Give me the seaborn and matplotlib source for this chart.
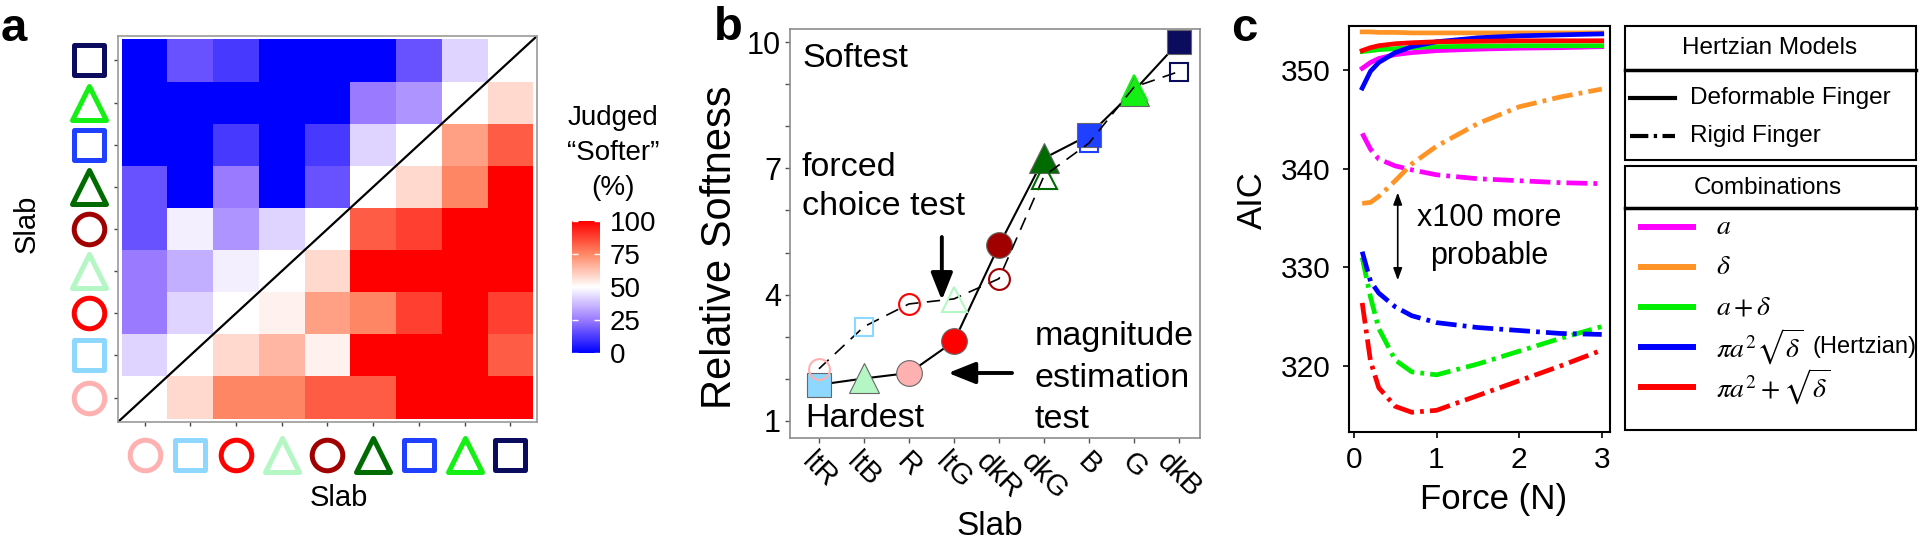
import numpy as np
import pandas as pd
import matplotlib
matplotlib.use('Agg')
import matplotlib.pyplot as plt
import seaborn as sns
from matplotlib.colors import LinearSegmentedColormap
from matplotlib.markers import MarkerStyle
from matplotlib.patches import Rectangle
from matplotlib.transforms import blended_transform_factory

plt.rcParams['font.family'] = ['Liberation Sans', 'DejaVu Sans']
plt.rcParams['mathtext.fontset'] = 'stix'

# slabs in forced-choice order (axis order of panels a and b)
slabs = ['ltR', 'ltB', 'R', 'ltG', 'dkR', 'dkG', 'B', 'G', 'dkB']
slab_colors = ['#ffb0b0', '#8ed8ff', '#ff0000', '#b4f7c4', '#a00000',
               '#006b00', '#2040ff', '#14f014', '#0c0c5e']
slab_markers = ['o', 's', 'o', '^', 'o', '^', 's', '^', 's']

# a: % judged softer (rows = slab on y axis, ltR first)
judged_softer = [
    [np.nan, 58, 75, 75, 83, 83, 100, 100, 100],
    [42, np.nan, 58, 65, 53, 100, 100, 100, 83],
    [25, 42, np.nan, 53, 70, 75, 88, 100, 88],
    [25, 35, 47, np.nan, 58, 100, 100, 100, 100],
    [17, 47, 30, 42, np.nan, 83, 88, 100, 100],
    [17, 0, 25, 0, 17, np.nan, 58, 75, 100],
    [0, 0, 12, 0, 12, 42, np.nan, 70, 83],
    [0, 0, 0, 0, 0, 25, 30, np.nan, 58],
    [0, 17, 12, 0, 0, 0, 17, 42, np.nan],
]
cbar_ticks = [0, 25, 50, 75, 100]

# b: relative softness by rank
magnitude_slabs = ['ltB', 'ltG', 'ltR', 'R', 'dkR', 'dkG', 'B', 'G', 'dkB']
magnitude_softness = [1.86, 2.01, 2.14, 2.89, 5.17, 7.24, 7.79, 8.84, 10.0]
forced_slabs = slabs
forced_softness = [2.24, 3.24, 3.78, 3.90, 4.38, 6.82, 7.60, 8.93, 9.30]

# c: AIC vs force
force = [0.1, 0.2, 0.3, 0.5, 0.7, 1.0, 1.5, 2.0, 2.5, 3.0]
combos = ['a', 'delta', 'a+delta', 'pi a2 sqrt(delta)', 'pi a2 + sqrt(delta)']
combo_labels = [r'$a$', r'$\delta$', r'$a+\delta$', r'$\pi a^2\sqrt{\delta}$', r'$\pi a^2+\sqrt{\delta}$']
combo_colors = ['#ff00ff', '#ff9326', '#00ee00', '#0000ff', '#ff0000']
aic_deformable = [
    [350.2, 350.8, 351.2, 351.6, 351.8, 352.0, 352.15, 352.25, 352.3, 352.4],
    [353.9, 353.9, 353.85, 353.85, 353.8, 353.8, 353.8, 353.8, 353.8, 353.8],
    [351.9, 352.0, 352.1, 352.2, 352.3, 352.4, 352.45, 352.5, 352.5, 352.5],
    [348.2, 349.9, 350.8, 351.8, 352.4, 352.9, 353.3, 353.5, 353.6, 353.7],
    [352.0, 352.3, 352.5, 352.7, 352.8, 352.9, 352.95, 353.0, 353.0, 353.0],
]
aic_rigid = [
    [343.6, 342.0, 341.0, 340.3, 339.9, 339.4, 339.0, 338.8, 338.6, 338.5],
    [336.5, 336.6, 337.2, 338.8, 340.5, 342.3, 344.6, 346.3, 347.3, 348.1],
    [331.0, 327.0, 323.8, 320.6, 319.4, 319.1, 320.2, 321.5, 322.8, 324.0],
    [331.6, 328.6, 327.4, 326.0, 325.1, 324.4, 323.9, 323.6, 323.3, 323.2],
    [326.4, 320.5, 317.8, 315.9, 315.3, 315.5, 317.0, 318.5, 320.0, 321.6],
]
fingers = ['Deformable Finger', 'Rigid Finger']

color_of = dict(zip(slabs, slab_colors))
marker_of = dict(zip(slabs, slab_markers))

fig = plt.figure(figsize=(19.2, 5.41), dpi=100)
# pixel canvas for figure-level labels and the legend of c
canvas = fig.add_axes([0, 0, 1, 1])
canvas.set_xlim(0, 1920)
canvas.set_ylim(541, 0)
canvas.axis('off')

ax_a = fig.add_axes([0.061458, 0.219963, 0.218229, 0.713494])
cax = fig.add_axes([0.297917, 0.347505, 0.014583, 0.243993])
ax_b = fig.add_axes([0.411458, 0.190388, 0.213542, 0.756007])
ax_c = fig.add_axes([0.702604, 0.201479, 0.135938, 0.750462])

# ---- a: heatmap
cmap = LinearSegmentedColormap.from_list(
    'judged', [(0, '#0000ff'), (0.25, '#9a7aff'), (0.5, '#ffffff'),
               (0.75, '#ff8866'), (1, '#ff0000')])
heat = pd.DataFrame(judged_softer, index=slabs, columns=slabs).iloc[::-1]
sns.heatmap(heat, ax=ax_a, cbar_ax=cax, cmap=cmap, vmin=0, vmax=100,
            xticklabels=False, yticklabels=False)
ax_a.set_xlim(-0.08, 9.08)
ax_a.set_ylim(9.08, -0.08)
for sp in ax_a.spines.values():
    sp.set_visible(True)
    sp.set_color('#9a9a9a')
    sp.set_linewidth(1.2)
ax_a.set_xticks(np.arange(9) + 0.5)
ax_a.set_yticks(np.arange(9) + 0.5)
ax_a.tick_params(length=3, width=1, color='#444444', labelbottom=False, labelleft=False)
ax_a.set_xlabel('')
ax_a.set_ylabel('')
ax_a.plot([0, 1], [0, 1], transform=ax_a.transAxes, color='black', lw=1.6)

# slab glyphs as tick labels
glyph_size = {'o': 22, 's': 21, '^': 24}
xtrans = blended_transform_factory(ax_a.transData, ax_a.transAxes)
ytrans = blended_transform_factory(ax_a.transAxes, ax_a.transData)
for i, (m, c) in enumerate(zip(slab_markers, slab_colors)):
    ax_a.plot(i + 0.5, -0.085, marker=MarkerStyle(m, joinstyle='round'), ms=glyph_size[m],
              mfc='none', mec=c, mew=3.6, transform=xtrans, clip_on=False)
    ax_a.plot(-0.069, 8.5 - i, marker=MarkerStyle(m, joinstyle='round'), ms=glyph_size[m],
              mfc='none', mec=c, mew=3.6, transform=ytrans, clip_on=False)

cbar = ax_a.collections[0].colorbar
cbar.outline.set_visible(False)
cbar.set_ticks(cbar_ticks)
cax.tick_params(direction='in', length=4, width=1, color='white', left=True, right=True,
                labelsize=20, pad=7)

canvas.text(27, 224, 'Slab', rotation=90, ha='center', va='center', fontsize=21)
canvas.text(339, 506, 'Slab', ha='center', va='baseline', fontsize=21)
canvas.text(613, 153, 'Judged\n\u201cSofter\u201d\n(%)', ha='center', va='center',
            fontsize=20, linespacing=1.45, multialignment='center')

# ---- b: relative softness
pos = np.arange(9)
sns.lineplot(x=pos, y=magnitude_softness, ax=ax_b, color='black', lw=1.5, zorder=2)
sns.lineplot(x=pos, y=forced_softness, ax=ax_b, color='black', lw=1.2,
             linestyle=(0, (8, 5)), zorder=4)
filled_size = {'o': 18.5, 's': 17, '^': 22}
open_size = {'o': 15, 's': 13.5, '^': 18}
for i, (s, v) in enumerate(zip(magnitude_slabs, magnitude_softness)):
    ax_b.plot(i, v, marker=marker_of[s], ms=filled_size[marker_of[s]], mfc=color_of[s],
              mec='#666666', mew=0.8, zorder=3)
for i, (s, v) in enumerate(zip(forced_slabs, forced_softness)):
    ax_b.plot(i, v, marker=marker_of[s], ms=open_size[marker_of[s]], mfc='none',
              mec=color_of[s], mew=1.5, zorder=5)

ax_b.set_xlim(-0.644, 8.467)
ax_b.set_ylim(0.596, 10.31)
ax_b.set_xticks(pos)
ax_b.set_xticklabels(slabs, rotation=-45, ha='center', fontsize=21)
ax_b.set_yticks([1, 4, 7, 10])
ax_b.set_yticks([2, 3, 5, 6, 8, 9], minor=True)
ax_b.tick_params(which='both', direction='out', length=3.5, width=1, color='#555555')
ax_b.tick_params(axis='y', labelsize=22, pad=3)
ax_b.tick_params(axis='x', pad=3)
for sp in ax_b.spines.values():
    sp.set_color('#8c8c8c')
    sp.set_linewidth(1.2)

ax_b.text(-0.36, 9.41, 'Softest', fontsize=24.5, va='baseline')
ax_b.text(-0.31, 0.857, 'Hardest', fontsize=24.5, va='baseline')
ax_b.text(-0.38, 6.56, 'forced\nchoice test', fontsize=24.5, va='center', linespacing=1.32)
ax_b.text(4.8, 2.02, 'magnitude\nestimation\ntest', fontsize=24.5, va='center', linespacing=1.42)
arrow = dict(arrowstyle='-|>,head_length=0.55,head_width=0.22', lw=2.8, color='black',
             mutation_scale=30, shrinkA=0, shrinkB=0)
ax_b.annotate('', xy=(2.73, 3.87), xytext=(2.73, 5.37), arrowprops=arrow)
ax_b.annotate('', xy=(2.87, 2.14), xytext=(4.29, 2.14), arrowprops=arrow)

canvas.text(720, 247, 'Relative Softness', rotation=90, ha='center', va='center', fontsize=30)
canvas.text(990, 535, 'Slab', ha='center', va='baseline', fontsize=24)

# ---- c: AIC
rows = []
for finger, table in zip(fingers, [aic_deformable, aic_rigid]):
    for combo, vals in zip(combos, table):
        for f, v in zip(force, vals):
            rows.append({'force': f, 'aic': v, 'combination': combo, 'finger': finger})
aic = pd.DataFrame(rows)
rigid_dash = (4.4, 1.3, 0.8, 1.3)
sns.lineplot(data=aic, x='force', y='aic', hue='combination', style='finger',
             hue_order=combos, palette=combo_colors, style_order=fingers,
             dashes={'Deformable Finger': '', 'Rigid Finger': rigid_dash},
             lw=3.4, legend=False, ax=ax_c, errorbar=None)
ax_c.set_xlim(-0.06, 3.10)
ax_c.set_ylim(313.3, 354.5)
ax_c.set_xticks([0, 1, 2, 3])
ax_c.set_yticks([320, 330, 340, 350])
ax_c.tick_params(direction='out', length=4, width=1.2, labelsize=21.5, color='black')
ax_c.tick_params(axis='y', pad=9)
ax_c.tick_params(axis='x', pad=6)
ax_c.set_xlabel('')
ax_c.set_ylabel('')
for sp in ax_c.spines.values():
    sp.set_color('black')
    sp.set_linewidth(1.5)
ax_c.annotate('', xy=(0.53, 328.7), xytext=(0.53, 337.6),
              arrowprops=dict(arrowstyle='<|-|>,head_length=0.6,head_width=0.22', lw=1.2,
                              color='black', shrinkA=0, shrinkB=0, mutation_scale=12))
ax_c.text(1.64, 333.1, 'x100 more\nprobable', ha='center', va='center', fontsize=22,
          linespacing=1.35)

canvas.text(1252, 200, 'AIC', rotation=90, ha='center', va='center', fontsize=25)
canvas.text(1494, 500, 'Force (N)', ha='center', va='center', fontsize=25)

# legend of c
canvas.add_patch(Rectangle((1625, 26), 291, 134, fill=False, lw=1.5, ec='black'))
canvas.plot([1625, 1916], [70, 70], color='black', lw=2.5)
canvas.text(1770, 48, 'Hertzian Models', ha='center', va='center', fontsize=17.5)
canvas.plot([1630, 1675], [98, 98], color='black', lw=3)
canvas.text(1690, 98, fingers[0], va='center', fontsize=17.5)
canvas.plot([1630, 1675], [136, 136], color='black', lw=3, dashes=rigid_dash)
canvas.text(1690, 136, fingers[1], va='center', fontsize=17.5)

canvas.add_patch(Rectangle((1625, 166), 291, 264, fill=False, lw=1.5, ec='black'))
canvas.plot([1625, 1916], [208, 208], color='black', lw=2.5)
canvas.text(1768, 188, 'Combinations', ha='center', va='center', fontsize=17.5)
for k, (lab, col) in enumerate(zip(combo_labels, combo_colors)):
    yy = 227 + 40 * k
    canvas.plot([1641, 1693], [yy, yy], color=col, lw=4.3)
    canvas.text(1716, yy, lab, va='center', fontsize=20)
canvas.text(1813, 347, '(Hertzian)', va='center', fontsize=17)

# panel letters
canvas.text(14, 41, 'a', fontsize=34, fontweight='bold', ha='center', va='baseline')
canvas.text(728, 40, 'b', fontsize=34, fontweight='bold', ha='center', va='baseline')
canvas.text(1244, 41, 'c', fontsize=34, fontweight='bold', ha='center', va='baseline')

fig.savefig('out.png', dpi=100)
plt.close(fig)
